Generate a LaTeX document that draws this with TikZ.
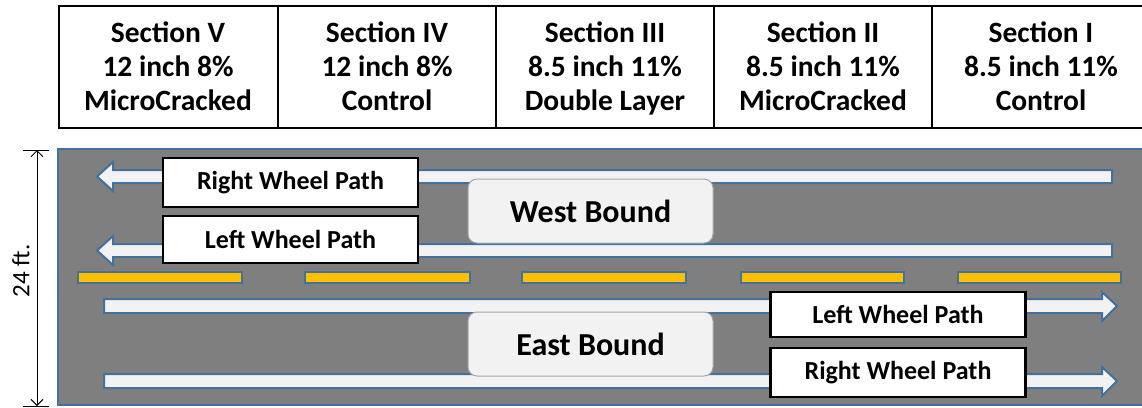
\documentclass[tikz,border=0pt]{standalone}
\usepackage{fontspec}
\setmainfont{Carlito}
\usetikzlibrary{arrows.meta}
\definecolor{roadgray}{HTML}{7F7F7F}
\definecolor{edgeblue}{HTML}{41719C}
\definecolor{barfill}{HTML}{F2F2F2}
\definecolor{lineyellow}{HTML}{FFC000}
\definecolor{boundedge}{HTML}{A6A6A6}
\begin{document}
\begin{tikzpicture}[x=1pt,y=-1pt,
  cellbox/.style={draw=black, line width=2.5pt},
  sectiontext/.style={font=\bfseries\fontsize{29.5}{34}\selectfont, anchor=base, inner sep=0pt},
  pathlabel/.style={draw=black, line width=2.5pt, fill=white, font=\bfseries\fontsize{26}{30}\selectfont, minimum width=255pt, inner sep=0pt},
  boundlabel/.style={draw=boundedge, line width=1pt, fill=barfill, rounded corners=9pt, minimum width=245pt, minimum height=64pt, inner sep=0pt, font=\bfseries\fontsize{32}{36}\selectfont},
  wheelbar/.style={draw=edgeblue, line width=2pt, fill=barfill},
  dashbar/.style={draw=edgeblue, line width=1.5pt, fill=lineyellow},
  roadbed/.style={draw=edgeblue, line width=2.5pt, fill=roadgray},
  dimline/.style={black, line width=1pt},
  dimtext/.style={font=\fontsize{25}{28}\selectfont, rotate=90, inner sep=0pt}
]
\useasboundingbox (0,0) rectangle (1142,407);
\fill[white] (0,0) rectangle (1142,407);

% table
\draw[cellbox] (59,6) rectangle (1155,128);
\foreach \xx in {278,496,714,932} \draw[cellbox] (\xx,6) -- (\xx,128);
\foreach \n/\cx/\la/\lb/\lc in {5/168/Section V/12 inch 8\%/MicroCracked,
                                4/387/Section IV/12 inch 8\%/Control,
                                3/605/Section III/8.5 inch 11\%/Double Layer,
                                2/823/Section II/8.5 inch 11\%/MicroCracked,
                                1/1041/Section I/8.5 inch 11\%/Control}{
  \node[sectiontext] (s\n a) at (\cx,42) {\la};
  \node[sectiontext] (s\n b) at (\cx,76) {\lb};
  \node[sectiontext] (s\n c) at (\cx,110) {\lc};
}

% road
\draw[roadbed] (58,149) rectangle (1155,405);

% centre dashes
\foreach \a/\b in {78/242,305/470,522/686,741/904,958/1121}
  \draw[dashbar] (\a,272) rectangle (\b,283);

% west bound wheel paths
\draw[wheelbar] (1112,170) -- (113,170) -- (113,162) -- (97,176.5) -- (113,191) -- (113,183) -- (1112,183) -- cycle;
\draw[wheelbar] (1112,244) -- (113,244) -- (113,236) -- (97,250.5) -- (113,265) -- (113,257) -- (1112,257) -- cycle;
% east bound wheel paths
\draw[wheelbar] (104,299) -- (1102,299) -- (1102,292) -- (1117,306) -- (1102,321) -- (1102,313) -- (104,313) -- cycle;
\draw[wheelbar] (104,374) -- (1102,374) -- (1102,367) -- (1117,381) -- (1102,396) -- (1102,388) -- (104,388) -- cycle;

% labels
\node[pathlabel, minimum height=49pt] (wr) at (290.5,182.5) {Right Wheel Path};
\node[pathlabel, minimum height=47pt] (wl) at (290.5,239.5) {Left Wheel Path};
\node[pathlabel, minimum height=45pt] (el) at (898,314.5) {Left Wheel Path};
\node[pathlabel, minimum height=49pt] (er) at (898,372.5) {Right Wheel Path};

\node[boundlabel] (wb) at (590.5,211) {West Bound};
\node[boundlabel] (eb) at (590.5,344) {East Bound};

% dimension
\coordinate (dtop) at (37,150);
\coordinate (dbot) at (37,406);
\coordinate (dtl) at (23,150); \coordinate (dtr) at (49,150);
\coordinate (dbl) at (23,406); \coordinate (dbr) at (49,406);
\draw[dimline] (dtl) -- (dtr);
\draw[dimline] (dbl) -- (dbr);
\draw[dimline, {Straight Barb[length=6pt,width=12pt]}-{Straight Barb[length=6pt,width=12pt]}] (dtop) -- (dbot);
\node[dimtext] (dlabel) at (21,271) {24 ft.};
\end{tikzpicture}
\end{document}
